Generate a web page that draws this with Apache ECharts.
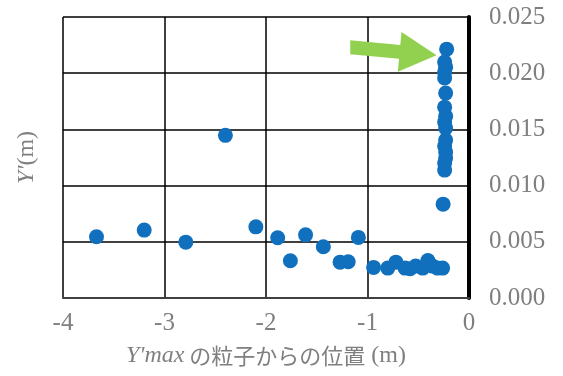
<!DOCTYPE html>
<html>
<head>
<meta charset="utf-8">
<script src="https://cdn.jsdelivr.net/npm/echarts@6/dist/echarts.min.js"></script>
<style>
  html, body { margin: 0; padding: 0; background: #fff; }
  #chart { width: 563px; height: 376px; }
</style>
</head>
<body>
<div id="chart"></div>
<script>
// Particle positions relative to the Y'max particle (x, m) and their Y' values (m)
const posX = [
  -3.67, -3.20, -2.79, -2.40, -2.10, -1.885, -1.76, -1.61, -1.435, -1.27, -1.19, -1.09,
  -0.94, -0.80, -0.72, -0.63, -0.58, -0.525, -0.456, -0.405, -0.36, -0.31, -0.26,
  -0.255,
  -0.24, -0.24, -0.23, -0.23, -0.24, -0.23, -0.23, -0.24, -0.23, -0.24, -0.23, -0.24, -0.24, -0.23, -0.24, -0.22
];
const posY = [
  0.00545, 0.00604, 0.00497, 0.01447, 0.00633, 0.00536, 0.00331, 0.00562, 0.00456, 0.00319, 0.00322, 0.00539,
  0.00272, 0.00266, 0.00319, 0.00266, 0.00260, 0.00284, 0.00266, 0.00333, 0.00284, 0.00266, 0.00266,
  0.00835,
  0.01138, 0.01201, 0.01245, 0.01298, 0.01352, 0.01405, 0.01512, 0.01565, 0.01618, 0.01698, 0.01823, 0.01957, 0.02010, 0.02054, 0.02099, 0.02214
];

// Axis ranges and tick steps
const xRange = [-4, 0];
const xStep = 1;
const yRange = [0, 0.025];
const yStep = 0.005;

// Highlight arrow pointing at the maximum value (tail and tip in data units)
const arrowTail = [-1.17, 0.0223];
const arrowTip = [-0.32, 0.0216];

const serif = '"Liberation Serif", "DejaVu Serif", serif';
const gray = '#7f7f7f';

const chart = echarts.init(document.getElementById('chart'));

chart.setOption({
  animation: false,
  backgroundColor: '#ffffff',
  grid: { left: 63, right: 94, top: 17, bottom: 78 },
  xAxis: {
    type: 'value',
    min: xRange[0], max: xRange[1], interval: xStep,
    axisLine: { show: true, onZero: false, lineStyle: { color: '#404040', width: 2 } },
    axisTick: { show: false },
    splitLine: { show: true, lineStyle: { color: '#000', width: 1.5 } },
    axisLabel: { color: gray, fontFamily: serif, fontSize: 25, margin: 13 },
    name: "{i|Y'max}{j| の粒子からの位置}{n| (m)}",
    nameLocation: 'middle',
    nameGap: 46,
    nameTextStyle: {
      rich: {
        i: { fontFamily: serif, fontStyle: 'italic', fontSize: 24, color: gray },
        j: { fontFamily: '"Noto Sans CJK JP", sans-serif', fontSize: 22, color: gray },
        n: { fontFamily: serif, fontSize: 24, color: gray }
      }
    }
  },
  yAxis: [
    {
      type: 'value',
      position: 'right',
      min: yRange[0], max: yRange[1], interval: yStep,
      axisLine: { show: true, lineStyle: { color: '#000', width: 4 } },
      axisTick: { show: false },
      splitLine: { show: true, lineStyle: { color: '#000', width: 1.5 } },
      axisLabel: {
        color: gray, fontFamily: serif, fontSize: 25, margin: 20,
        formatter: v => v.toFixed(3)
      }
    },
    {
      type: 'value',
      position: 'left',
      min: yRange[0], max: yRange[1], interval: yStep,
      axisLine: { show: false },
      axisTick: { show: false },
      axisLabel: { show: false },
      splitLine: { show: false },
      name: "{i|Y'}{n|(m)}",
      nameLocation: 'middle',
      nameGap: 24,
      nameTextStyle: {
        rich: {
          i: { fontFamily: serif, fontStyle: 'italic', fontSize: 24, color: gray },
          n: { fontFamily: serif, fontSize: 24, color: gray }
        }
      }
    }
  ],
  series: [{
    type: 'scatter',
    yAxisIndex: 0,
    symbol: 'circle',
    symbolSize: 15,
    itemStyle: { color: '#1170BD', opacity: 1 },
    data: posX.map((x, i) => [x, posY[i]])
  }]
});

// Block arrow built around the converted tail/tip positions
function drawArrow() {
  const t = chart.convertToPixel({ xAxisIndex: 0, yAxisIndex: 0 }, arrowTail);
  const p = chart.convertToPixel({ xAxisIndex: 0, yAxisIndex: 0 }, arrowTip);
  const dx = p[0] - t[0], dy = p[1] - t[1];
  const len = Math.sqrt(dx * dx + dy * dy);
  const ux = dx / len, uy = dy / len;
  const nx = -uy, ny = ux;
  const shaftHalf = 7, headHalf = 20, headLen = 37;
  const bx = p[0] - ux * headLen, by = p[1] - uy * headLen;
  const pts = [
    [t[0], t[1] + shaftHalf],
    [bx + nx * shaftHalf, by + ny * shaftHalf],
    [bx + nx * headHalf, by + ny * headHalf],
    [p[0], p[1]],
    [bx - nx * headHalf, by - ny * headHalf],
    [bx - nx * shaftHalf, by - ny * shaftHalf],
    [t[0], t[1] - shaftHalf]
  ];
  chart.setOption({
    graphic: [{
      type: 'polygon',
      z: 100,
      shape: { points: pts },
      style: { fill: '#92D050' }
    }]
  });
}
drawArrow();
</script>
</body>
</html>
